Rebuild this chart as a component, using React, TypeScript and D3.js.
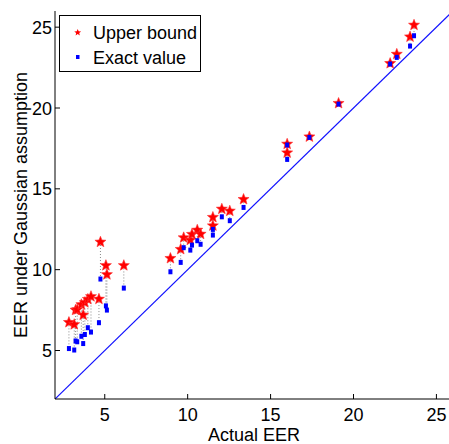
import React from "react";
import * as d3 from "d3";

const actualEER = [2.84, 3.16, 3.24, 3.34, 3.70, 3.59, 3.80, 3.98, 4.17, 4.65, 4.74, 5.07, 5.13, 6.15, 8.96, 9.58, 9.76, 10.16, 10.26, 10.58, 10.78, 11.52, 11.52, 12.06, 12.54, 13.37, 16.0, 16.0, 17.34, 19.1, 22.21, 22.61, 23.41, 23.65];
const upperBound = [6.74, 6.61, 7.50, 7.53, 7.20, 7.84, 7.97, 8.17, 8.34, 8.18, 11.71, 10.26, 9.70, 10.26, 10.70, 11.26, 11.98, 11.83, 12.19, 12.45, 12.20, 13.24, 12.72, 13.75, 13.63, 14.35, 17.77, 17.23, 18.22, 20.29, 22.76, 23.33, 24.40, 25.13];
const exactValue = [5.12, 5.03, 5.59, 5.54, 5.43, 5.88, 5.99, 6.41, 6.14, 6.72, 9.42, 7.76, 7.50, 8.86, 9.87, 10.45, 11.36, 11.21, 11.52, 11.79, 11.57, 12.49, 12.14, 13.27, 13.03, 13.85, 17.71, 16.82, 18.18, 20.24, 22.72, 23.13, 23.83, 24.47];
const xTicks = [5, 10, 15, 20, 25];
const yTicks = [5, 10, 15, 20, 25];
const legendLabels = ["Upper bound", "Exact value"];

const W = 449, H = 444;
const left = 55, top = 11, bottom = 399, right = 453;
const FONT = "'Liberation Sans', Arial, sans-serif";

function starPath(cx: number, cy: number, R: number, r: number) {
  const pts: [number, number][] = [];
  for (let i = 0; i < 10; i++) {
    const a = -Math.PI / 2 + (i * Math.PI) / 5;
    const rad = i % 2 === 0 ? R : r;
    pts.push([cx + rad * Math.cos(a), cy + rad * Math.sin(a)]);
  }
  return d3.line()(pts) + "Z";
}

export default function App() {
  const x = d3.scaleLinear().domain([2, 26]).range([left, right]);
  const y = d3.scaleLinear().domain([2, 26]).range([bottom, top]);
  const idx = d3.range(actualEER.length);
  return (
    <svg width={W} height={H} style={{ position: "absolute", left: 0, top: 0, background: "#fff" }} fontFamily={FONT}>
      <defs>
        <clipPath id="plotclip">
          <rect x={left} y={top} width={right - left} height={bottom - top} />
        </clipPath>
      </defs>
      <rect x={0} y={0} width={W} height={H} fill="#fff" />
      <g clipPath="url(#plotclip)">
        <line x1={x(2)} y1={y(2)} x2={x(26)} y2={y(26)} stroke="#1010ff" strokeWidth={1.2} />
        {idx.map((i) => (
          <line key={"d" + i} x1={x(actualEER[i])} x2={x(actualEER[i])} y1={y(upperBound[i])} y2={y(exactValue[i])}
            stroke="#888" strokeWidth={1} strokeDasharray="1,2" />
        ))}
        {idx.map((i) => (
          <path key={"s" + i} d={starPath(x(actualEER[i]), y(upperBound[i]), 5.8, 2.5)} fill="#ff0000" stroke="#ff3030" strokeWidth={0.6} />
        ))}
        {idx.map((i) => (
          <rect key={"q" + i} x={x(actualEER[i]) - 2} y={y(exactValue[i]) - 2.5} width={4} height={5} fill="#0000ff" />
        ))}
      </g>
      {/* axes */}
      <line x1={left} y1={bottom} x2={W} y2={bottom} stroke="#000" strokeWidth={1} />
      <line x1={left} y1={top} x2={left} y2={bottom} stroke="#000" strokeWidth={1} />
      {xTicks.map((t) => (
        <g key={"xt" + t}>
          <line x1={x(t)} x2={x(t)} y1={bottom} y2={bottom - 5} stroke="#000" />
          <text x={x(t)} y={421} textAnchor="middle" fontSize={18} fill="#000">{t}</text>
        </g>
      ))}
      {yTicks.map((t) => (
        <g key={"yt" + t}>
          <line x1={left} x2={left + 5} y1={y(t)} y2={y(t)} stroke="#000" />
          <text x={52} y={y(t) + 6.5} textAnchor="end" fontSize={18} fill="#000">{t}</text>
        </g>
      ))}
      <text x={(left + right) / 2} y={441} textAnchor="middle" fontSize={18} fill="#000">Actual EER</text>
      <text transform={`translate(27, ${(top + bottom) / 2}) rotate(-90)`} textAnchor="middle" fontSize={18} fill="#000">EER under Gaussian assumption</text>
      {/* legend */}
      <rect x={59.5} y={15.5} width={141} height={56} fill="#fff" stroke="#000" strokeWidth={1} />
      <path d={starPath(77.7, 32.5, 3.6, 1.6)} fill="#ff0000" />
      <rect x={76} y={55} width={3.5} height={4} fill="#0000ff" />
      <text x={93} y={38.5} fontSize={18} fill="#000">{legendLabels[0]}</text>
      <text x={93} y={64} fontSize={18} fill="#000">{legendLabels[1]}</text>
    </svg>
  );
}
